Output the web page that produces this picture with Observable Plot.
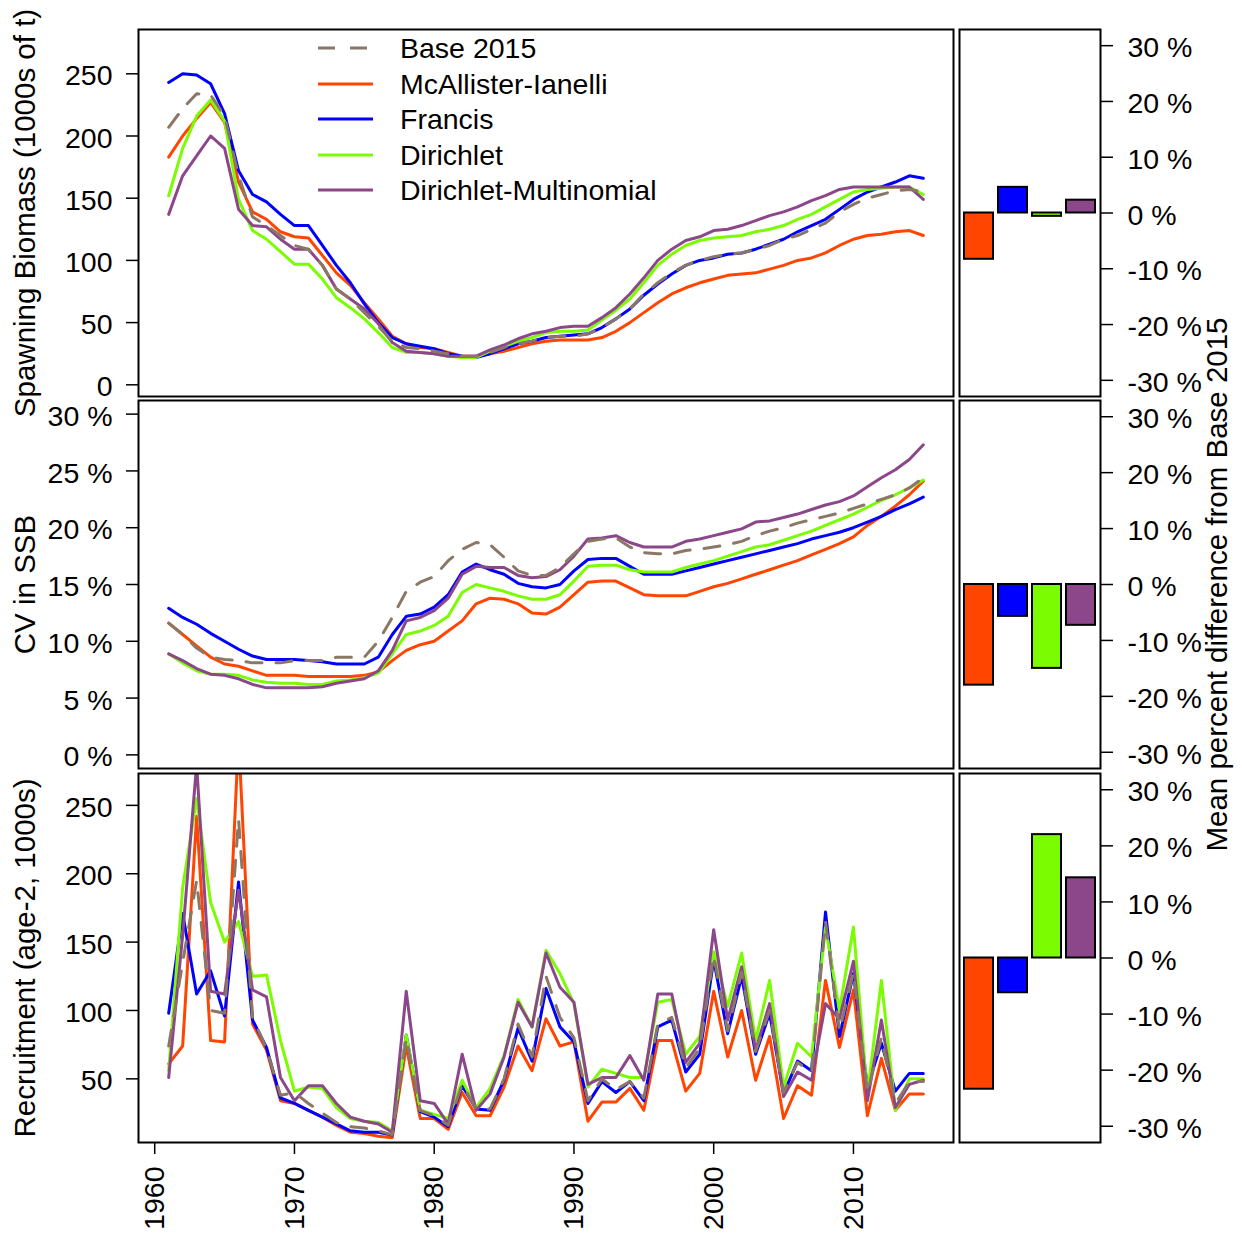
<!DOCTYPE html>
<html>
<head>
<meta charset="utf-8">
<script src="https://cdn.jsdelivr.net/npm/d3@7"></script>
<script src="https://cdn.jsdelivr.net/npm/@observablehq/plot@0.6"></script>
<style>
  html, body { margin: 0; padding: 0; background: #fff; }
  #chart { position: relative; width: 1242px; height: 1235px; font-family: "Liberation Sans", Arial, sans-serif; color: #000; }
</style>
</head>
<body>
<div id="chart"></div>
<script>
// ---------------- DATA ----------------
const years = d3.range(1961, 2016);

const modelNames  = ["Base 2015", "McAllister-Ianelli", "Francis", "Dirichlet", "Dirichlet-Multinomial"];
const modelColors = ["#8B7765", "#FF4500", "#0000FF", "#7CFC00", "#8B4789"];
const barModels   = ["McAllister-Ianelli", "Francis", "Dirichlet", "Dirichlet-Multinomial"];

// Spawning biomass (1000s of t), 1961-2015
const ssbBase = [207,222,234,233,216,168,135,128,120,112, 109,96,77,69,58,47,35,30,29,27, 25,23,23,26,30,33,35,38,39,39, 41,46,53,61,73,82,90,96,100,103, 105,106,109,112,117,120,125,130,139,145, 150,153,156,157,155];
const ssbMcA  = [183,200,214,227,211,163,139,133,123,119, 118,104,90,80,66,53,39,33,30,29, 26,23,23,25,27,30,33,35,36,36, 36,38,43,50,58,66,73,78,82,85, 88,89,90,93,96,100,102,106,112,117, 120,121,123,124,120];
const ssbFra  = [243,250,249,242,218,172,153,147,137,128, 128,112,96,82,65,50,38,33,31,29, 25,23,22,25,29,33,35,38,39,40, 41,46,53,61,72,81,89,96,100,102, 105,106,109,113,117,123,128,133,141,149, 155,159,163,168,166];
const ssbDir  = [152,190,216,229,212,149,124,117,107,97, 97,85,70,62,53,42,30,26,26,25, 23,22,22,27,31,35,38,42,43,43, 44,52,60,69,82,96,105,112,116,118, 119,120,123,125,128,133,137,143,149,155, 157,158,159,159,153];
const ssbDM   = [137,168,184,200,190,141,128,127,117,109, 109,96,77,69,61,49,34,27,26,25, 23,23,23,28,32,37,41,43,46,47, 47,54,62,73,86,100,109,116,119,124, 125,128,132,136,139,143,148,152,157,159, 159,159,159,159,149];

// CV in SSB (%), 1961-2015
const cvBase = [11.6,10.6,9.4,8.6,8.4,8.3,8.1,8.1,8.1,8.3, 8.3,8.3,8.6,8.6,8.6,10.0,12.1,14.4,15.2,15.7, 17.1,18.1,18.7,18.5,17.4,16.2,15.8,15.8,16.5,17.7, 18.8,19.0,19.1,18.3,17.8,17.7,17.7,18.0,18.1,18.3, 18.5,18.8,19.3,19.7,20.0,20.4,20.7,21.0,21.3,21.7, 22.1,22.5,22.9,23.5,24.4];
const cvMcA  = [11.6,10.6,9.6,8.6,8.0,7.8,7.4,7.0,7.0,7.0, 6.9,6.9,6.9,6.9,7.0,7.3,8.3,9.2,9.7,10.0, 10.9,11.8,13.3,13.8,13.7,13.3,12.5,12.4,13.0,14.1, 15.2,15.3,15.3,14.7,14.1,14.0,14.0,14.0,14.4,14.8, 15.1,15.5,15.9,16.3,16.7,17.1,17.6,18.1,18.6,19.2, 20.2,21.0,21.9,22.9,24.1];
const cvFra  = [12.9,12.1,11.5,10.7,10.0,9.3,8.7,8.4,8.4,8.4, 8.3,8.2,8.0,8.0,8.0,8.6,10.6,12.2,12.4,13.0, 14.1,16.1,16.8,16.3,15.9,15.1,14.8,14.7,15.0,16.2, 17.2,17.3,17.3,16.6,15.9,15.9,15.9,16.2,16.5,16.8, 17.1,17.4,17.7,18.0,18.3,18.6,19.0,19.3,19.6,20.0, 20.5,21.0,21.6,22.1,22.7];
const cvDir  = [8.9,8.1,7.4,7.1,7.1,7.0,6.6,6.4,6.3,6.3, 6.2,6.2,6.5,6.6,6.8,7.2,8.9,10.6,10.9,11.4, 12.2,14.3,15.0,14.7,14.4,14.0,13.7,13.7,14.1,15.3, 16.6,16.7,16.7,16.3,16.1,16.1,16.1,16.5,16.8,17.1, 17.5,17.9,18.3,18.5,18.9,19.3,19.7,20.2,20.7,21.2, 21.8,22.4,22.9,23.5,24.2];
const cvDM   = [8.9,8.3,7.6,7.1,7.0,6.7,6.2,5.9,5.9,5.9, 5.9,6.0,6.3,6.5,6.7,7.4,9.2,11.8,12.1,12.7, 13.8,15.9,16.6,16.5,16.5,15.8,15.6,15.7,16.3,17.5, 19.0,19.1,19.3,18.7,18.3,18.3,18.3,18.8,19.0,19.3, 19.6,19.9,20.5,20.6,20.9,21.2,21.6,22.0,22.3,22.8, 23.6,24.4,25.1,26.0,27.3];

// Recruitment (age-2, 1000s), 1961-2015
const recBase = [74,135,195,100,98,240,95,72,38,40, 32,25,18,15,14,12,9,80,27,23, 16,46,28,28,50,90,66,125,95,80, 34,50,42,48,36,90,95,58,72,140, 85,128,70,100,40,62,55,165,85,128, 40,80,32,48,48];
const recMcA  = [61,74,242,78,77,300,90,71,34,32, 27,22,16,11,10,8,7,74,21,21, 13,40,23,23,44,74,56,94,74,77, 19,33,33,43,27,78,78,41,54,114, 66,100,49,81,21,45,38,122,73,115, 23,65,27,39,39];
const recFra  = [98,171,112,129,96,194,93,73,36,32, 27,22,17,12,11,11,9,82,26,22, 15,45,28,27,49,87,63,116,88,77, 32,48,40,48,34,88,93,55,68,137, 83,125,68,98,39,63,56,172,81,127, 44,76,41,54,54];
const recDir  = [56,190,255,179,150,165,125,126,78,41, 44,43,29,21,19,18,12,82,27,24, 21,49,29,43,67,108,88,144,127,105, 44,57,54,51,51,106,108,68,81,143, 103,142,78,122,44,76,66,161,100,161, 39,122,27,50,50];
const recDM   = [51,155,280,114,112,188,115,110,51,34, 45,45,32,22,19,17,11,114,34,32, 17,68,27,39,66,106,88,142,117,106, 46,51,51,67,49,112,112,62,76,159, 93,132,71,105,37,55,49,105,94,136, 34,93,29,46,49];

// Mean percent difference from Base 2015 (%), order of barModels
const pctSSB = [-8.3, 4.6, -0.6, 2.3];
const pctCV  = [-18.0, -5.7, -15.0, -7.3];
const pctRec = [-23.4, -6.2, 22.0, 14.3];

// Axis ticks / domains
const yearTicks = [1960, 1970, 1980, 1990, 2000, 2010];
const ssbTicks  = [0, 50, 100, 150, 200, 250];
const cvTicks   = [0, 5, 10, 15, 20, 25, 30];
const recTicks  = [50, 100, 150, 200, 250];
const pctTicks  = [-30, -20, -10, 0, 10, 20, 30];
const xDomain   = [1958.84, 2017.16];
const ssbDomain = [-9.4, 285.6];
const cvDomain  = [-1.2, 31.2];
const recDomain = [3.45, 273.3];
const pctDomain = [-32.9, 32.9];

// ---------------- BUILD ----------------
const FONT = "'Liberation Sans', Arial, sans-serif";
const TICK_FS = 28.5;
const TITLE_FS = 29.5;
const chart = document.getElementById("chart");

function longRows(series) {
  return series.flatMap(([name, vals]) => vals.map((v, i) => ({year: years[i], value: v, model: name})));
}

const rows = [
  {top: 0,   height: 399, mt: 29, mb: 3},
  {top: 399, height: 372, mt: 1,  mb: 3},
  {top: 771, height: 464, mt: 2,  mb: 93}
];

const drawOrder = ["McAllister-Ianelli", "Francis", "Dirichlet", "Dirichlet-Multinomial", "Base 2015"];

function svgStyle(left, top) {
  return `position:absolute;left:${left}px;top:${top}px;overflow:visible;font-family:${FONT};font-size:${TICK_FS}px;color:#000;background:transparent;`;
}

function leftPanel(data, r, yDomain, yTicks, fmt, label, withX) {
  const marks = [];
  for (const m of drawOrder) {
    marks.push(Plot.line(data.filter(d => d.model === m), {
      x: "year", y: "value", stroke: "model", strokeWidth: 3,
      strokeDasharray: m === "Base 2015" ? "16,14" : undefined,
      clip: true
    }));
  }
  marks.push(Plot.axisY({
    ticks: yTicks, tickFormat: fmt, tickSize: 12, tickPadding: 14, strokeWidth: 1.5,
    fontSize: TICK_FS, label, labelAnchor: "center", labelArrow: "none", labelOffset: 124
  }));
  if (withX) {
    marks.push(Plot.axisX({
      ticks: yearTicks, tickFormat: d => `${d}`, tickRotate: -90, tickSize: 12, tickPadding: 12,
      strokeWidth: 1.5, fontSize: TICK_FS, label: null
    }));
  }
  marks.push(Plot.frame({stroke: "#000", strokeWidth: 2}));
  const svg = Plot.plot({
    width: 956, height: r.height,
    marginLeft: 138, marginRight: 3, marginTop: r.mt, marginBottom: r.mb,
    x: {domain: xDomain, axis: null},
    y: {domain: yDomain, axis: null},
    color: {domain: modelNames, range: modelColors},
    style: svgStyle(0, r.top),
    marks
  });
  chart.appendChild(svg);
}

function rightPanel(vals, r, label) {
  const data = barModels.map((m, i) => ({model: m, value: vals[i]}));
  const svg = Plot.plot({
    width: 286, height: r.height,
    marginLeft: 3, marginRight: 142, marginTop: r.mt, marginBottom: r.mb,
    x: {type: "band", domain: barModels, paddingInner: 0.15, paddingOuter: 0.14, axis: null},
    y: {domain: pctDomain, axis: null},
    color: {domain: modelNames, range: modelColors},
    style: svgStyle(956, r.top),
    marks: [
      Plot.barY(data, {x: "model", y: "value", fill: "model", stroke: "#000", strokeWidth: 2}),
      Plot.axisY({
        anchor: "right", ticks: pctTicks, tickFormat: d => `${d} %`, tickSize: 12, tickPadding: 15,
        strokeWidth: 1.5, fontSize: TICK_FS,
        label: label, labelAnchor: "center", labelArrow: "none", labelOffset: 126
      }),
      Plot.frame({stroke: "#000", strokeWidth: 2})
    ]
  });
  chart.appendChild(svg);
}

const ssbRows = longRows([["Base 2015", ssbBase], ["McAllister-Ianelli", ssbMcA], ["Francis", ssbFra], ["Dirichlet", ssbDir], ["Dirichlet-Multinomial", ssbDM]]);
const cvRows  = longRows([["Base 2015", cvBase], ["McAllister-Ianelli", cvMcA], ["Francis", cvFra], ["Dirichlet", cvDir], ["Dirichlet-Multinomial", cvDM]]);
const recRows = longRows([["Base 2015", recBase], ["McAllister-Ianelli", recMcA], ["Francis", recFra], ["Dirichlet", recDir], ["Dirichlet-Multinomial", recDM]]);

leftPanel(ssbRows, rows[0], ssbDomain, ssbTicks, d => `${d}`, "Spawning Biomass (1000s of t)", false);
leftPanel(cvRows,  rows[1], cvDomain,  cvTicks,  d => `${d} %`, "CV in SSB", false);
leftPanel(recRows, rows[2], recDomain, recTicks, d => `${d}`, "Recruitment (age-2, 1000s)", true);

rightPanel(pctSSB, rows[0], null);
rightPanel(pctCV,  rows[1], "Mean percent difference from Base 2015");
rightPanel(pctRec, rows[2], null);

// Axis titles slightly larger than tick labels; tick labels sit ~2px below their ticks (as in R)
chart.querySelectorAll("svg g[aria-label='y-axis label'] text").forEach(t => t.setAttribute("font-size", TITLE_FS));
chart.querySelectorAll("svg g[aria-label='y-axis tick label']").forEach(g => {
  const tr = g.getAttribute("transform") || "";
  g.setAttribute("transform", `${tr} translate(0,2.5)`);
});

// ---------------- LEGEND ----------------
const legend = document.createElement("div");
legend.style.cssText = `position:absolute;left:318px;top:0px;font-family:${FONT};font-size:${TICK_FS}px;color:#000;`;
modelNames.forEach((name, i) => {
  const row = document.createElement("div");
  const cy = 48 + i * 35.5;
  row.style.cssText = `position:absolute;left:0px;top:${cy - 18}px;height:36px;width:400px;`;
  const dash = name === "Base 2015" ? `stroke-dasharray="17,15"` : "";
  row.innerHTML = `<svg width="56" height="36" style="position:absolute;left:0;top:0;overflow:visible">
      <line x1="0" x2="55" y1="18" y2="18" stroke="${modelColors[i]}" stroke-width="3" ${dash}></line></svg>
    <span style="position:absolute;left:82px;top:0;line-height:36px;white-space:nowrap;">${name}</span>`;
  legend.appendChild(row);
});
chart.appendChild(legend);
</script>
</body>
</html>
